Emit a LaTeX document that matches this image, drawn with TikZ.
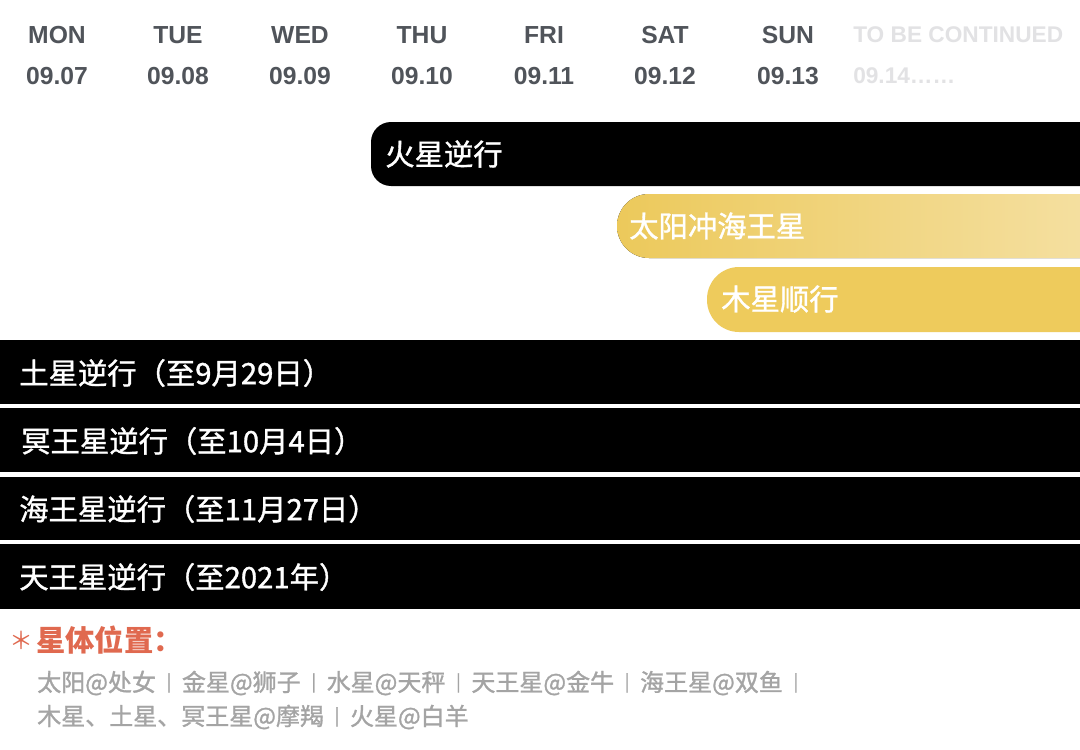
\documentclass[tikz,border=0pt]{standalone}
\usepackage{fontspec}
\setmainfont{Liberation Sans}
\newfontfamily\cjk{Noto Sans CJK SC}
\newfontfamily\cjkmed{Noto Sans CJK SC}[FakeBold=1.2]
\definecolor{daygray}{HTML}{50545A}
\definecolor{faintgray}{HTML}{E2E2E4}
\definecolor{goldleft}{HTML}{ECC95B}
\definecolor{goldright}{HTML}{F5E1A5}
\definecolor{gold}{HTML}{EECB5C}
\definecolor{notered}{HTML}{E0694F}
\definecolor{notegray}{HTML}{A4A4A4}
\newcommand{\sepbar}{\hspace{8pt}\raisebox{2.5pt}{\fontsize{13}{13}\selectfont|}\hspace{8pt}}
\tikzset{
	day/.style={font=\fontsize{18.5}{21}\selectfont\bfseries, text=daygray, inner sep=0pt},
	later/.style={font=\fontsize{17}{20}\selectfont\bfseries, text=faintgray, inner sep=0pt, anchor=west},
	barlabel/.style={font=\cjkmed\fontsize{22}{26}\selectfont, text=white, inner sep=0pt, anchor=west},
	note/.style={font=\cjkmed\fontsize{18}{21}\selectfont, text=notegray, inner sep=0pt, anchor=west}
}

\begin{document}
\begin{tikzpicture}[x=0.75pt, y=-0.75pt]
	%%%%% START %%%%%
	\useasboundingbox (0, 0) rectangle (1080, 749);
	\fill[white] (0, 0) rectangle (1080, 749);
	
	\node[day] (mon) at (57, 35) {MON};
	\node[day] (tue) at (178, 35) {TUE};
	\node[day] (wed) at (300, 35) {WED};
	\node[day] (thu) at (422, 35) {THU};
	\node[day] (fri) at (544, 35) {FRI};
	\node[day] (sat) at (665, 35) {SAT};
	\node[day] (sun) at (788, 35) {SUN};
	\node[later] (tbc) at (853, 35) {TO BE CONTINUED};
	
	\node[day] (d07) at (57, 76) {09.07};
	\node[day] (d08) at (178, 76) {09.08};
	\node[day] (d09) at (300, 76) {09.09};
	\node[day] (d10) at (422, 76) {09.10};
	\node[day] (d11) at (544, 76) {09.11};
	\node[day] (d12) at (665, 76) {09.12};
	\node[day] (d13) at (788, 76) {09.13};
	\node[later] (d14) at (853, 76) {09.14……};
	
	\begin{scope}
		\clip (0, 0) rectangle (1080, 749);
		\fill[black, rounded corners=15pt] (371, 122) rectangle (1120, 186);
		\fill[left color=goldleft, right color=goldright, rounded corners=24pt] (617, 194) rectangle (1120, 258);
		\fill[gold, rounded corners=24pt] (707, 267) rectangle (1120, 332);
	\end{scope}
	
	\fill[black] (0, 340) rectangle (1080, 404);
	\fill[black] (0, 408) rectangle (1080, 472);
	\fill[black] (0, 477) rectangle (1080, 540);
	\fill[black] (0, 544) rectangle (1080, 609);
	
	\node[barlabel] (mars) at (385, 154) {火星逆行};
	\node[barlabel] (sunnep) at (629, 226) {太阳冲海王星};
	\node[barlabel] (jupiter) at (721, 299) {木星顺行};
	
	\node[barlabel] (saturn) at (19, 373) {土星逆行（至9月29日）};
	\node[barlabel] (pluto) at (21, 441) {冥王星逆行（至10月4日）};
	\node[barlabel] (neptune) at (19, 509) {海王星逆行（至11月27日）};
	\node[barlabel] (uranus) at (19, 577) {天王星逆行（至2021年）};
	
	\node[font=\cjk\fontsize{18}{20}\selectfont, text=notered, inner sep=0pt] (star) at (21, 640) {＊};
	\node[font=\cjk\fontsize{22}{26}\selectfont\bfseries, text=notered, inner sep=0pt, anchor=west] (title) at (36, 640) {星体位置：};
	
	\node[note] (line1) at (37, 683) {太阳@处女\sepbar 金星@狮子\sepbar 水星@天秤\sepbar 天王星@金牛\sepbar 海王星@双鱼\sepbar};
	\node[note] (line2) at (37, 717) {木星、土星、冥王星@摩羯\sepbar 火星@白羊};
	
	%%%%% END %%%%%
\end{tikzpicture}
\end{document}
